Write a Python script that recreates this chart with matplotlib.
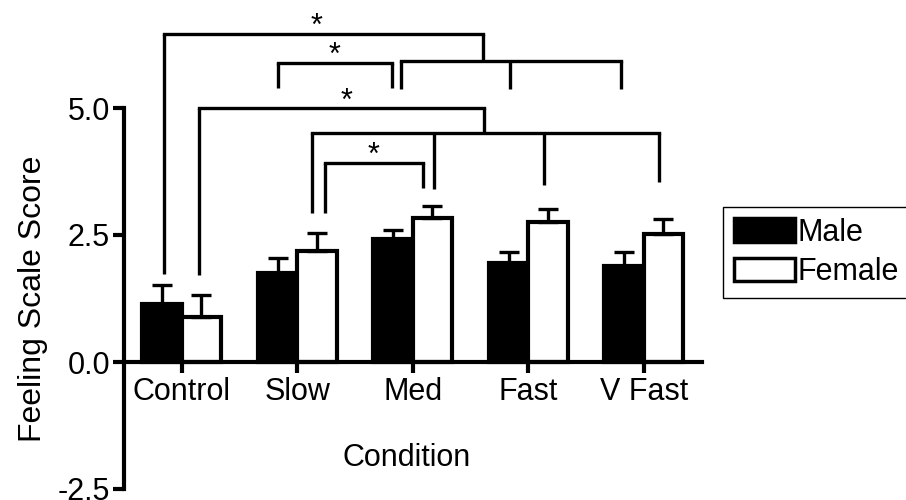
import matplotlib
matplotlib.use("Agg")
import matplotlib.pyplot as plt
from matplotlib.patches import Patch
import numpy as np

plt.rcParams["font.family"] = ["Liberation Sans", "DejaVu Sans"]

# data
conditions = ["Control", "Slow", "Med", "Fast", "V Fast"]
male_mean = [1.14, 1.75, 2.42, 1.95, 1.88]
male_err = [0.38, 0.30, 0.17, 0.22, 0.29]
female_mean = [0.89, 2.18, 2.84, 2.75, 2.51]
female_err = [0.43, 0.36, 0.23, 0.27, 0.30]
y_ticks = [-2.5, 0.0, 2.5, 5.0]

# significance brackets: bar height, leg x positions, leg bottoms, star x (or None)
bracket_y = [6.46, 5.89, 5.93, 5.00, 4.51, 3.92]
bracket_legs = [
    [-0.15, 2.61],
    [0.83, 1.82],
    [1.90, 2.84, 3.80],
    [0.15, 2.62],
    [1.13, 2.18, 3.14, 4.13],
    [1.24, 2.09],
]
bracket_bottoms = [
    [1.73, 5.93],
    [5.39, 5.39],
    [5.37, 5.37, 5.37],
    [1.71, 4.51],
    [2.93, 3.41, 3.48, 3.54],
    [2.93, 3.43],
]
bracket_star = [1.17, 1.32, None, 1.43, None, 1.66]

FS = 22
LW = 2.4
w = 0.34

fig = plt.figure(figsize=(9.06, 5.0), dpi=100)
ax = fig.add_axes([124 / 906, 11 / 500, 577.5 / 906, 381 / 500])

x = np.arange(len(conditions))
ax.bar(x - w / 2, male_mean, w, color="black", edgecolor="black", linewidth=3, zorder=2)
ax.bar(x + w / 2, female_mean, w, color="white", edgecolor="black", linewidth=3, zorder=2)
ax.errorbar(x - w / 2, male_mean, yerr=[np.zeros(len(x)), male_err], fmt="none",
            ecolor="black", elinewidth=LW, capsize=7.5, capthick=LW, zorder=3)
ax.errorbar(x + w / 2, female_mean, yerr=[np.zeros(len(x)), female_err], fmt="none",
            ecolor="black", elinewidth=LW, capsize=7.5, capthick=LW, zorder=3)

# brackets above the bars
for yb, legs, bots, sx in zip(bracket_y, bracket_legs, bracket_bottoms, bracket_star):
    ax.plot([min(legs), max(legs)], [yb, yb], color="black", lw=LW,
            solid_capstyle="projecting", clip_on=False)
    for lx, lb in zip(legs, bots):
        ax.plot([lx, lx], [yb, lb], color="black", lw=LW,
                solid_capstyle="butt", clip_on=False)
    if sx is not None:
        ax.text(sx, yb - 0.03, "*", ha="center", va="baseline", fontsize=FS,
                clip_on=False)

ax.set_xlim(-0.5, 4.5)
ax.set_ylim(-2.5, 5.0)
ax.set_yticks(y_ticks)
ax.set_yticklabels([f"{v:.1f}" for v in y_ticks])
ax.set_xticks(x)
ax.set_xticklabels(conditions)

ax.spines["top"].set_visible(False)
ax.spines["right"].set_visible(False)
ax.spines["bottom"].set_position(("data", 0))
ax.spines["left"].set_linewidth(3)
ax.spines["bottom"].set_linewidth(3)
ax.tick_params(axis="both", length=8, width=3, labelsize=FS, pad=2)
ax.tick_params(axis="x", pad=3)

ax.set_ylabel("Feeling Scale Score", fontsize=23)
ax.yaxis.set_label_coords(-0.131, 0.5)
ax.set_xlabel("Condition", fontsize=FS)
ax.xaxis.set_label_coords(0.49, 0.121)

handles = [
    Patch(facecolor="black", edgecolor="black", linewidth=2.5, label="Male"),
    Patch(facecolor="white", edgecolor="black", linewidth=2.5, label="Female"),
]
leg = ax.legend(handles=handles, loc="upper left", bbox_to_anchor=(723 / 906, 1 - 207 / 500),
                bbox_transform=fig.transFigure, fontsize=FS, frameon=True, fancybox=False,
                edgecolor="black", framealpha=1, handlelength=2.0, handleheight=0.8,
                handletextpad=0.1, borderpad=0.35, labelspacing=0.3, borderaxespad=0)
leg.get_frame().set_linewidth(1)

fig.savefig("out.png", dpi=100)
